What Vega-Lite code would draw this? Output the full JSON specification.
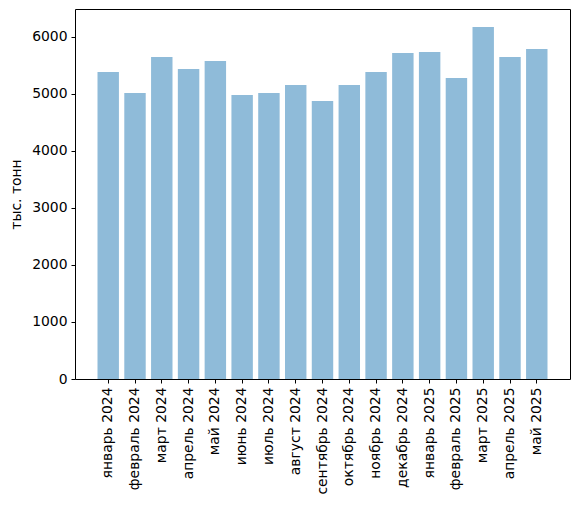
{
  "$schema": "https://vega.github.io/schema/vega-lite/v6.json",
  "width": 495,
  "height": 370,
  "autosize": {"type": "none"},
  "padding": {"left": 75, "top": 9, "right": 10, "bottom": 127},
  "background": "white",
  "config": {
    "font": "DejaVu Sans",
    "view": {"stroke": "black", "strokeWidth": 1},
    "axis": {
      "labelFont": "DejaVu Sans",
      "titleFont": "DejaVu Sans",
      "labelFontSize": 13.9,
      "titleFontSize": 13.9,
      "titleFontWeight": "normal",
      "labelColor": "black",
      "titleColor": "black",
      "tickColor": "black",
      "domainColor": "black",
      "tickSize": 4,
      "grid": false,
      "labelPadding": 4
    }
  },
  "data": {
    "values": [
      {"month": "январь 2024", "value": 5386},
      {"month": "февраль 2024", "value": 5018},
      {"month": "март 2024", "value": 5649},
      {"month": "апрель 2024", "value": 5439},
      {"month": "май 2024", "value": 5579},
      {"month": "июнь 2024", "value": 4982},
      {"month": "июль 2024", "value": 5018},
      {"month": "август 2024", "value": 5158},
      {"month": "сентябрь 2024", "value": 4877},
      {"month": "октябрь 2024", "value": 5158},
      {"month": "ноябрь 2024", "value": 5386},
      {"month": "декабрь 2024", "value": 5719},
      {"month": "январь 2025", "value": 5737},
      {"month": "февраль 2025", "value": 5281},
      {"month": "март 2025", "value": 6175},
      {"month": "апрель 2025", "value": 5649},
      {"month": "май 2025", "value": 5789}
    ]
  },
  "mark": {"type": "bar", "color": "#1f77b4", "opacity": 0.5},
  "encoding": {
    "x": {
      "field": "month",
      "type": "nominal",
      "sort": null,
      "title": null,
      "scale": {"paddingInner": 0.2, "paddingOuter": 0.84},
      "axis": {"labelAngle": -90, "labelAlign": "right", "labelBaseline": "middle", "domain": false}
    },
    "y": {
      "field": "value",
      "type": "quantitative",
      "title": "тыс. тонн",
      "scale": {"domain": [0, 6490], "nice": false},
      "axis": {"values": [0, 1000, 2000, 3000, 4000, 5000, 6000], "format": "d", "domain": false, "titlePadding": 8}
    }
  }
}
